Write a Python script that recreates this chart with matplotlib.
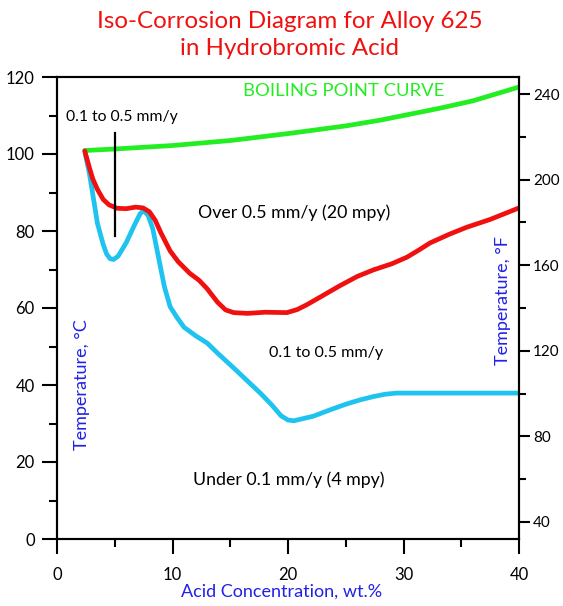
import matplotlib
matplotlib.use("Agg")
import matplotlib.pyplot as plt
from matplotlib.ticker import MultipleLocator

plt.rcParams['font.family'] = ['Lato', 'DejaVu Sans']

# Data (acid concentration wt.%, temperature °C)
boil_x = [2.4, 5, 10, 15, 20, 25, 28, 30, 33, 36, 40]
boil_y = [100.9, 101.3, 102.2, 103.5, 105.3, 107.3, 108.8, 110.0, 111.8, 113.8, 117.4]

red_x = [2.4, 2.8, 3.1, 3.5, 4.0, 4.5, 5.2, 6.0, 6.8, 7.45, 8.0, 8.5, 9.0, 9.8, 10.5,
         11.5, 12.3, 13.0, 13.9, 14.6, 15.3, 16.5, 18.0, 19.9, 20.8, 21.6, 23.0, 24.5,
         26.0, 27.4, 29.0, 30.3, 31.3, 32.3, 34.0, 35.5, 37.5, 40]
red_y = [100.8, 96.5, 93.5, 90.8, 88.2, 86.8, 85.9, 85.8, 86.2, 86.0, 85.0, 82.8, 79.5,
         74.8, 72.0, 69.0, 67.2, 65.0, 61.5, 59.5, 58.8, 58.6, 58.9, 58.8, 59.6, 60.8,
         63.2, 65.8, 68.2, 69.9, 71.5, 73.2, 75.0, 76.9, 79.2, 81.0, 83.0, 86.0]

blue_x = [2.45, 2.8, 3.1, 3.5, 4.0, 4.3, 4.6, 4.9, 5.3, 6.0, 6.7, 7.2, 7.5, 7.9, 8.3, 8.6,
          8.9, 9.3, 9.8, 10.4, 11.0, 12.0, 13.0, 14.0, 15.2, 16.4, 17.6, 18.6, 19.4,
          20.0, 20.5, 21.2, 22.2, 23.6, 25.0, 26.2, 27.4, 28.4, 29.4, 32, 35, 40]
blue_y = [100.0, 95.0, 89.5, 82.0, 76.5, 74.0, 72.8, 72.6, 73.5, 77.0, 81.5, 84.5, 85.3,
          84.0, 80.5, 76.0, 71.5, 65.5, 60.3, 57.5, 55.0, 52.8, 50.9, 48.0, 44.7, 41.3,
          37.9, 34.8, 32.0, 30.9, 30.7, 31.2, 31.9, 33.5, 35.0, 36.1, 37.0, 37.6, 37.9,
          37.9, 37.9, 37.9]

marker_x = [5.0, 5.0]
marker_y = [105.5, 78.7]

x_ticks = [0, 10, 20, 30, 40]
c_ticks = [0, 20, 40, 60, 80, 100, 120]
f_ticks = [40, 80, 120, 160, 200, 240]
f_minor = [60, 100, 140, 180, 220]

RED = '#f01010'
GREEN = '#22ee22'
CYAN = '#1ec3f0'
BLUE = '#2020e8'

fig = plt.figure(figsize=(5.63, 6.06), dpi=100)
ax = fig.add_axes([57/563, 1-539/606, (519-57)/563, (539-77)/606])

kw = dict(lw=3.4, solid_capstyle='round', solid_joinstyle='round')
ax.plot(boil_x, boil_y, color=GREEN, **kw)
ax.plot(blue_x, blue_y, color=CYAN, **kw)
ax.plot(red_x, red_y, color=RED, **kw)
ax.plot(marker_x, marker_y, color='black', lw=1.6)

ax.set_xlim(0, 40)
ax.set_ylim(0, 120)
ax.set_xticks(x_ticks)
ax.set_yticks(c_ticks)
ax.xaxis.set_minor_locator(MultipleLocator(5))
ax.yaxis.set_minor_locator(MultipleLocator(10))
for sp in ax.spines.values():
    sp.set_linewidth(1.5)
ax.tick_params(which='major', direction='out', length=11, width=1.5, labelsize=12, pad=5)
ax.tick_params(which='minor', direction='out', length=6, width=1.5)
ax.tick_params(axis='x', which='major', pad=9)

ax2 = ax.twinx()
ax2.set_ylim(0*9/5+32, 120*9/5+32)
ax2.set_yticks(f_ticks)
ax2.set_yticks(f_minor, minor=True)
ax2.tick_params(which='major', direction='out', length=8, width=1.5, labelsize=11, pad=2)
ax2.tick_params(which='minor', direction='out', length=5, width=1.5)
for sp in ax2.spines.values():
    sp.set_linewidth(1.5)

ax.text(0.8, 109.6, '0.1 to 0.5 mm/y', fontsize=11.3, ha='left', va='center')
ax.text(24.8, 116.4, 'BOILING POINT CURVE', fontsize=13.3, color=GREEN, ha='center', va='center')
ax.text(20.5, 84.7, 'Over 0.5 mm/y (20 mpy)', fontsize=12.8, ha='center', va='center')
ax.text(23.3, 48.3, '0.1 to 0.5 mm/y', fontsize=11.6, ha='center', va='center')
ax.text(20.1, 15.3, 'Under 0.1 mm/y (4 mpy)', fontsize=12.8, ha='center', va='center')
ax.text(2.2, 40, 'Temperature, °C', fontsize=13, color=BLUE, rotation=90, ha='center', va='center')
ax.text(38.6, 62, 'Temperature, °F', fontsize=13, color=BLUE, rotation=90, ha='center', va='center')

fig.text(290/563, 1-35/606, 'Iso-Corrosion Diagram for Alloy 625\nin Hydrobromic Acid',
         fontsize=17.4, color=RED, ha='center', va='center', linespacing=1.3)
fig.text(282/563, 1-592/606, 'Acid Concentration, wt.%', fontsize=13, color=BLUE,
         ha='center', va='center')

fig.savefig('out.png', dpi=100)
